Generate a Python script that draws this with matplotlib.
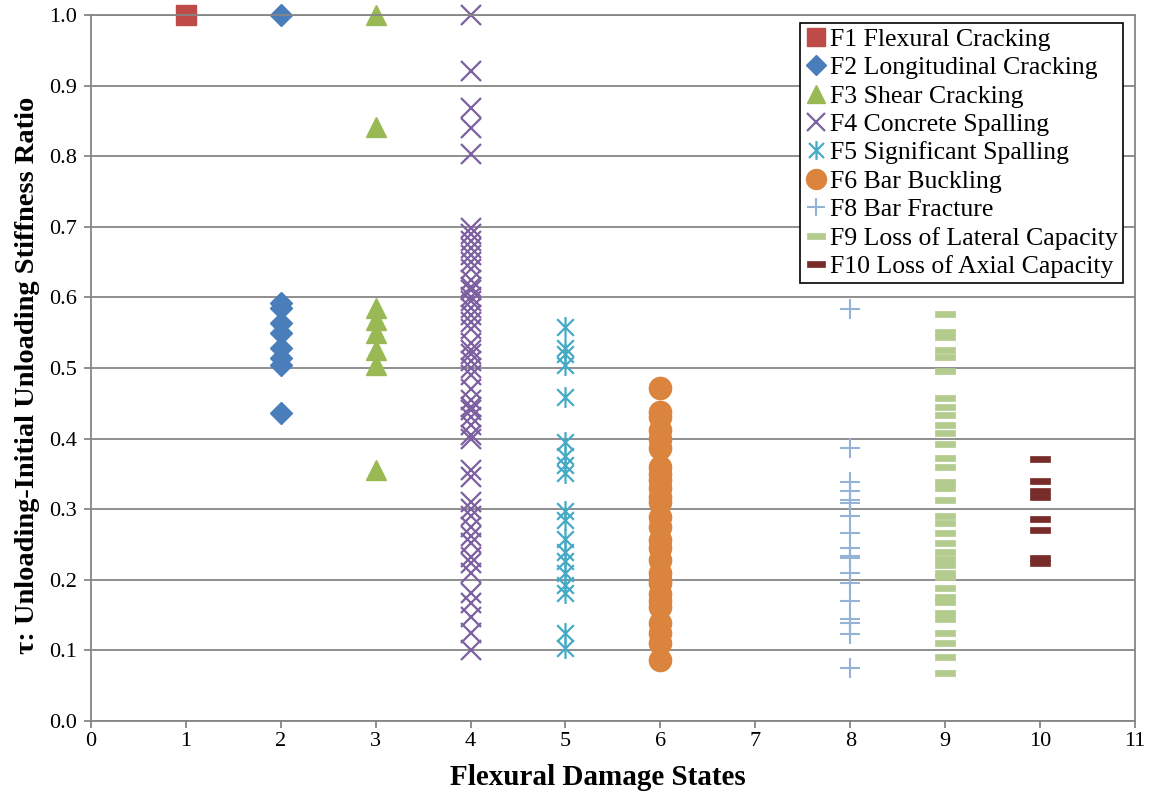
import matplotlib
matplotlib.use('Agg')
import matplotlib.pyplot as plt
from matplotlib.path import Path

plt.rcParams['font.family'] = ['Liberation Serif', 'DejaVu Serif']

# tau values per flexural damage state
f1 = [1.0]
f2 = [1.0, 0.592, 0.585, 0.564, 0.550, 0.528, 0.514, 0.504, 0.437]
f3 = [1.0, 0.842, 0.585, 0.568, 0.550, 0.525, 0.504, 0.355]
f4 = [1.0, 0.921, 0.869, 0.840, 0.803, 0.698, 0.69, 0.68, 0.67, 0.66, 0.65,
      0.64, 0.625, 0.615, 0.61, 0.60, 0.595, 0.585, 0.575, 0.565, 0.555,
      0.535, 0.525, 0.52, 0.51, 0.50, 0.49, 0.47, 0.455, 0.445, 0.44, 0.43,
      0.42, 0.405, 0.40, 0.355, 0.345, 0.31, 0.30, 0.29, 0.275, 0.262,
      0.252, 0.232, 0.224, 0.21, 0.181, 0.167, 0.147, 0.124, 0.10]
f5 = [0.558, 0.528, 0.52, 0.504, 0.459, 0.395, 0.375, 0.362, 0.352, 0.297,
      0.285, 0.258, 0.24, 0.226, 0.21, 0.192, 0.182, 0.125, 0.103]
f6 = [0.472, 0.438, 0.43, 0.412, 0.40, 0.387, 0.36, 0.35, 0.342, 0.33, 0.318,
      0.31, 0.289, 0.275, 0.256, 0.245, 0.228, 0.21, 0.2, 0.195, 0.18, 0.17,
      0.162, 0.139, 0.125, 0.11, 0.086]
f8 = [0.584, 0.387, 0.338, 0.326, 0.313, 0.309, 0.29, 0.266, 0.245, 0.234,
      0.231, 0.21, 0.195, 0.17, 0.144, 0.139, 0.123, 0.075]
f9 = [0.577, 0.551, 0.544, 0.525, 0.516, 0.496, 0.457, 0.445, 0.433, 0.419,
      0.408, 0.392, 0.372, 0.36, 0.339, 0.33, 0.313, 0.29, 0.281, 0.267,
      0.252, 0.24, 0.229, 0.221, 0.21, 0.204, 0.188, 0.176, 0.169, 0.153,
      0.144, 0.124, 0.11, 0.091, 0.068]
f10 = [0.371, 0.34, 0.326, 0.317, 0.286, 0.27, 0.231, 0.224]

states = [1, 2, 3, 4, 5, 6, 8, 9, 10]
labels = ['F1 Flexural Cracking', 'F2 Longitudinal Cracking', 'F3 Shear Cracking',
          'F4 Concrete Spalling', 'F5 Significant Spalling', 'F6 Bar Buckling',
          'F8 Bar Fracture', 'F9 Loss of Lateral Capacity', 'F10 Loss of Axial Capacity']
series = [f1, f2, f3, f4, f5, f6, f8, f9, f10]

star = Path([(-1, -1), (1, 1), (-1, 1), (1, -1), (0, -1.25), (0, 1.25)],
            [Path.MOVETO, Path.LINETO, Path.MOVETO, Path.LINETO, Path.MOVETO, Path.LINETO])
dash = Path([(-1, -0.3), (1, -0.3), (1, 0.3), (-1, 0.3), (-1, -0.3)],
            [Path.MOVETO, Path.LINETO, Path.LINETO, Path.LINETO, Path.CLOSEPOLY])

styles = [
    dict(marker='s', ms=14, color='#BE4B48', mec='#BE4B48'),
    dict(marker='D', ms=11, color='#4A7EBB', mec='#4A7EBB'),
    dict(marker='^', ms=14, color='#98B954', mec='#98B954'),
    dict(marker='x', ms=15, color='#7D60A0', mew=1.6),
    dict(marker=star, ms=15, color='#46AAC5', mfc='none', mew=1.6),
    dict(marker='o', ms=16, color='#DB843D', mec='#DB843D'),
    dict(marker='+', ms=14, color='#95B3D7', mew=1.5),
    dict(marker=dash, ms=15, color='#B3CB8D', mec='#B3CB8D', mew=0.5),
    dict(marker=dash, ms=15, color='#772C2A', mec='#772C2A', mew=0.5),
]

fig = plt.figure(figsize=(11.5, 7.96), dpi=100)
ax = fig.add_axes([0.0791, 0.0942, 0.9078, 0.8869])

for x, ys, lab, st in zip(states, series, labels, styles):
    ax.plot([x] * len(ys), ys, linestyle='none', label=lab, clip_on=False, **st)

ax.set_xlim(0, 11)
ax.set_ylim(0, 1.0)
ax.set_xticks(range(0, 12))
ax.set_yticks([i / 10 for i in range(11)])
ax.set_yticklabels([f'{i / 10:.1f}' for i in range(11)])
ax.yaxis.grid(True, color='#868686', linewidth=1.3)
ax.set_axisbelow(True)
for sp in ax.spines.values():
    sp.set_color('#868686')
    sp.set_linewidth(1.3)
ax.tick_params(colors='#868686', labelcolor='black', labelsize=16, length=5, width=1.3)
ax.tick_params(axis='x', pad=3)
ax.tick_params(axis='y', pad=5)

ax.set_xlabel('Flexural Damage States', fontsize=21, fontweight='bold')
ax.set_ylabel('τ: Unloading-Initial Unloading Stiffness Ratio', fontsize=20.5,
              fontweight='bold')
ax.xaxis.set_label_coords(0.4856, -0.061)
ax.yaxis.set_label_coords(-0.049, 0.49)

leg = ax.legend(loc='upper right', bbox_to_anchor=(0.9885, 0.989), fontsize=18.5,
                frameon=True, fancybox=False, framealpha=1, edgecolor='black',
                handlelength=0.8, handletextpad=0.15, labelspacing=0.21,
                borderpad=0.2, borderaxespad=0, markerscale=0.9)
leg.get_frame().set_linewidth(1.2)
leg.set_zorder(5)

plt.savefig('out.png', dpi=100)
